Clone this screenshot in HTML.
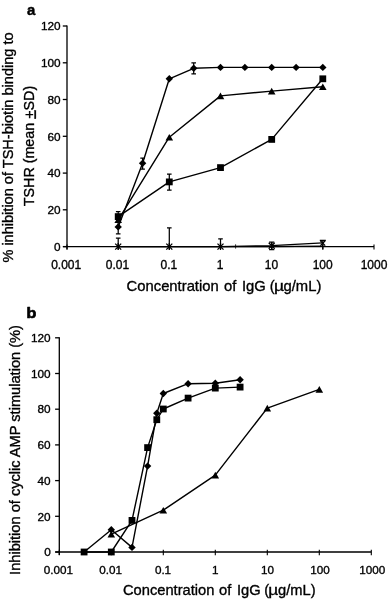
<!DOCTYPE html>
<html><head><meta charset="utf-8"><title>chart</title>
<style>
html,body{margin:0;padding:0;background:#fff;}
body{width:388px;height:600px;overflow:hidden;font-family:"Liberation Sans",sans-serif;}
svg{display:block;will-change:transform;font-family:"Liberation Sans",sans-serif;fill:#000;}
text{stroke:#000;stroke-width:0.34px;}
</style></head><body>
<svg width="388" height="600" viewBox="0 0 388 600">
<rect x="0" y="0" width="388" height="600" fill="#fff"/>
<path d="M67.0 25.5L67.0 249.4M63.0 246.6L374.0 246.6" stroke="#000" stroke-width="1.3" fill="none"/>
<path d="M62.8 246.6L67.0 246.6" stroke="#000" stroke-width="1.3"/>
<text x="60.6" y="250.9" font-size="11.8" text-anchor="end" font-weight="normal" >0</text>
<path d="M62.8 209.8L67.0 209.8" stroke="#000" stroke-width="1.3"/>
<text x="60.6" y="214.1" font-size="11.8" text-anchor="end" font-weight="normal" >20</text>
<path d="M62.8 173.1L67.0 173.1" stroke="#000" stroke-width="1.3"/>
<text x="60.6" y="177.4" font-size="11.8" text-anchor="end" font-weight="normal" >40</text>
<path d="M62.8 136.3L67.0 136.3" stroke="#000" stroke-width="1.3"/>
<text x="60.6" y="140.6" font-size="11.8" text-anchor="end" font-weight="normal" >60</text>
<path d="M62.8 99.5L67.0 99.5" stroke="#000" stroke-width="1.3"/>
<text x="60.6" y="103.8" font-size="11.8" text-anchor="end" font-weight="normal" >80</text>
<path d="M62.8 62.8L67.0 62.8" stroke="#000" stroke-width="1.3"/>
<text x="60.6" y="67.1" font-size="11.8" text-anchor="end" font-weight="normal" >100</text>
<path d="M62.8 26.0L67.0 26.0" stroke="#000" stroke-width="1.3"/>
<text x="60.6" y="30.3" font-size="11.8" text-anchor="end" font-weight="normal" >120</text>
<path d="M67.0 244.4L67.0 249.4" stroke="#000" stroke-width="1.1"/>
<text x="66.2" y="269.1" font-size="12.0" text-anchor="middle" font-weight="normal" >0.001</text>
<path d="M118.2 244.4L118.2 249.4" stroke="#000" stroke-width="1.1"/>
<text x="117.5" y="269.1" font-size="12.0" text-anchor="middle" font-weight="normal" >0.01</text>
<path d="M169.3 244.4L169.3 249.4" stroke="#000" stroke-width="1.1"/>
<text x="168.8" y="269.1" font-size="12.0" text-anchor="middle" font-weight="normal" >0.1</text>
<path d="M220.5 244.4L220.5 249.4" stroke="#000" stroke-width="1.1"/>
<text x="220.1" y="269.1" font-size="12.0" text-anchor="middle" font-weight="normal" >1</text>
<path d="M271.7 244.4L271.7 249.4" stroke="#000" stroke-width="1.1"/>
<text x="271.4" y="269.1" font-size="12.0" text-anchor="middle" font-weight="normal" >10</text>
<path d="M322.8 244.4L322.8 249.4" stroke="#000" stroke-width="1.1"/>
<text x="322.7" y="269.1" font-size="12.0" text-anchor="middle" font-weight="normal" >100</text>
<path d="M374.0 244.4L374.0 249.4" stroke="#000" stroke-width="1.1"/>
<text x="374.0" y="269.1" font-size="12.0" text-anchor="middle" font-weight="normal" >1000</text>
<path d="M235.6 244.3L235.6 248.6" stroke="#000" stroke-width="0.8"/>
<path d="M118.2 226.9L142.6 163.3L169.3 78.8L193.7 68.3L220.5 67.4L244.9 67.4L271.7 67.4L296.1 67.4L322.8 67.4" stroke="#000" stroke-width="1.4" fill="none" stroke-linejoin="round"/>
<path d="M118.2 219.8L169.3 137.2L220.5 95.9L271.7 91.1L322.8 86.7" stroke="#000" stroke-width="1.4" fill="none" stroke-linejoin="round"/>
<path d="M118.2 216.6L169.3 181.9L220.5 167.6L271.7 139.4L322.8 78.8" stroke="#000" stroke-width="1.4" fill="none" stroke-linejoin="round"/>
<path d="M118.2 246.6L169.3 246.6L220.5 246.6L271.7 245.7L322.8 242.9" stroke="#000" stroke-width="1.3" fill="none" stroke-linejoin="round"/>
<path d="M118.2 246.6L169.3 246.6L220.5 246.6L271.7 246.6L322.8 246.2" stroke="#000" stroke-width="1.3" fill="none" stroke-linejoin="round"/>
<path d="M118.2 211.6L118.2 233.8M115.9 211.6L120.5 211.6M115.9 233.8L120.5 233.8" stroke="#000" stroke-width="1.25" fill="none"/>
<path d="M142.6 158.1L142.6 169.0M140.3 158.1L144.9 158.1M140.3 169.0L144.9 169.0" stroke="#000" stroke-width="1.25" fill="none"/>
<path d="M193.7 62.8L193.7 73.9M191.4 62.8L196.0 62.8M191.4 73.9L196.0 73.9" stroke="#000" stroke-width="1.25" fill="none"/>
<path d="M169.3 174.1L169.3 190.1M167.0 174.1L171.6 174.1M167.0 190.1L171.6 190.1" stroke="#000" stroke-width="1.25" fill="none"/>
<path d="M220.5 165.1L220.5 170.1M220.5 165.1L220.5 165.1M220.5 170.1L220.5 170.1" stroke="#000" stroke-width="1.25" fill="none"/>
<path d="M118.2 238.2L118.2 246.6M115.9 238.2L120.5 238.2" stroke="#000" stroke-width="1.25" fill="none"/>
<path d="M169.3 227.8L169.3 246.6M167.0 227.8L171.6 227.8" stroke="#000" stroke-width="1.25" fill="none"/>
<path d="M220.5 238.9L220.5 246.6M218.2 238.9L222.8 238.9" stroke="#000" stroke-width="1.25" fill="none"/>
<path d="M322.8 240.3L322.8 249.6M319.8 240.3L325.8 240.3" stroke="#000" stroke-width="1.25" fill="none"/>
<path d="M271.7 242.0L271.7 249.5M269.1 242.0L274.3 242.0M269.1 249.5L274.3 249.5" stroke="#000" stroke-width="1.25" fill="none"/>
<g fill="#000">
<path d="M118.2 216.5L122.0 223.1L114.4 223.1Z"/>
<path d="M169.3 133.9L173.1 140.5L165.5 140.5Z"/>
<path d="M220.5 92.6L224.3 99.2L216.7 99.2Z"/>
<path d="M271.7 87.8L275.5 94.4L267.9 94.4Z"/>
<path d="M322.8 83.4L326.6 90.0L319.0 90.0Z"/>
<rect x="114.8" y="213.2" width="6.8" height="6.8"/>
<rect x="165.9" y="178.5" width="6.8" height="6.8"/>
<rect x="217.1" y="164.2" width="6.8" height="6.8"/>
<rect x="268.3" y="136.0" width="6.8" height="6.8"/>
<rect x="319.4" y="75.4" width="6.8" height="6.8"/>
<path d="M118.2 223.2L121.9 226.9L118.2 230.6L114.5 226.9Z"/>
<path d="M142.6 159.6L146.3 163.3L142.6 167.0L138.9 163.3Z"/>
<path d="M169.3 75.1L173.0 78.8L169.3 82.5L165.6 78.8Z"/>
<path d="M193.7 64.6L197.4 68.3L193.7 72.0L190.0 68.3Z"/>
<path d="M220.5 63.7L224.2 67.4L220.5 71.1L216.8 67.4Z"/>
<path d="M244.9 63.7L248.6 67.4L244.9 71.1L241.2 67.4Z"/>
<path d="M271.7 63.7L275.4 67.4L271.7 71.1L268.0 67.4Z"/>
<path d="M296.1 63.7L299.8 67.4L296.1 71.1L292.4 67.4Z"/>
<path d="M322.8 63.7L326.5 67.4L322.8 71.1L319.1 67.4Z"/>
</g>
<path d="M115.2 243.6L121.2 249.6M115.2 249.6L121.2 243.6M118.2 243.1L118.2 250.1" stroke="#000" stroke-width="1.3" fill="none"/>
<path d="M166.3 243.6L172.3 249.6M166.3 249.6L172.3 243.6M169.3 243.1L169.3 250.1" stroke="#000" stroke-width="1.3" fill="none"/>
<path d="M217.5 243.6L223.5 249.6M217.5 249.6L223.5 243.6M220.5 243.1L220.5 250.1" stroke="#000" stroke-width="1.3" fill="none"/>
<path d="M268.7 242.7L274.7 248.7M268.7 248.7L274.7 242.7M271.7 242.2L271.7 249.2" stroke="#000" stroke-width="1.3" fill="none"/>
<path d="M320.4 240.8L325.2 245.6M320.4 245.6L325.2 240.8" stroke="#000" stroke-width="1.3" fill="none"/>
<text transform="translate(27.0 14.6) scale(0.96 1)" font-size="15.5" font-weight="bold" style="stroke-width:0.5px;stroke-linejoin:round">a</text>
<text x="126.6" y="290.6" font-size="14.8" text-anchor="start" font-weight="normal" >Concentration</text>
<text x="224.0" y="290.6" font-size="14.8" text-anchor="start" font-weight="normal" >of</text>
<text x="242.0" y="290.6" font-size="14.8" text-anchor="start" font-weight="normal" >IgG</text>
<text x="269.8" y="290.6" font-size="14.8" text-anchor="start" font-weight="normal" >(</text>
<text transform="translate(274.0 290.6) scale(1.18 1)" font-size="14.8">µ</text>
<text x="283.5" y="290.6" font-size="14.8" text-anchor="start" font-weight="normal" >g/mL)</text>
<text transform="translate(13.0 262.6) rotate(-90)" font-size="14.56">% inhibition of TSH-biotin binding to</text>
<text transform="translate(33.5 206.2) rotate(-90)" font-size="14.3">TSHR (mean <tspan text-decoration="underline">+</tspan>SD)</text>
<path d="M59.3 337.3L59.3 555.0M55.3 552.0L371.3 552.0" stroke="#000" stroke-width="1.3" fill="none"/>
<path d="M55.099999999999994 552.0L59.3 552.0" stroke="#000" stroke-width="1.3"/>
<text x="50.7" y="556.2" font-size="11.8" text-anchor="end" font-weight="normal" >0</text>
<path d="M55.099999999999994 516.3L59.3 516.3" stroke="#000" stroke-width="1.3"/>
<text x="50.7" y="520.5" font-size="11.8" text-anchor="end" font-weight="normal" >20</text>
<path d="M55.099999999999994 480.6L59.3 480.6" stroke="#000" stroke-width="1.3"/>
<text x="50.7" y="484.8" font-size="11.8" text-anchor="end" font-weight="normal" >40</text>
<path d="M55.099999999999994 444.9L59.3 444.9" stroke="#000" stroke-width="1.3"/>
<text x="50.7" y="449.1" font-size="11.8" text-anchor="end" font-weight="normal" >60</text>
<path d="M55.099999999999994 409.2L59.3 409.2" stroke="#000" stroke-width="1.3"/>
<text x="50.7" y="413.4" font-size="11.8" text-anchor="end" font-weight="normal" >80</text>
<path d="M55.099999999999994 373.5L59.3 373.5" stroke="#000" stroke-width="1.3"/>
<text x="50.7" y="377.7" font-size="11.8" text-anchor="end" font-weight="normal" >100</text>
<path d="M55.099999999999994 337.8L59.3 337.8" stroke="#000" stroke-width="1.3"/>
<text x="50.7" y="342.0" font-size="11.8" text-anchor="end" font-weight="normal" >120</text>
<path d="M59.3 549.8L59.3 555.2" stroke="#000" stroke-width="1.1"/>
<text x="58.3" y="574.0" font-size="11.7" text-anchor="middle" font-weight="normal" >0.001</text>
<path d="M111.3 549.8L111.3 555.2" stroke="#000" stroke-width="1.1"/>
<text x="110.6" y="574.0" font-size="11.7" text-anchor="middle" font-weight="normal" >0.01</text>
<path d="M163.3 549.8L163.3 555.2" stroke="#000" stroke-width="1.1"/>
<text x="163.0" y="574.0" font-size="11.7" text-anchor="middle" font-weight="normal" >0.1</text>
<path d="M215.3 549.8L215.3 555.2" stroke="#000" stroke-width="1.1"/>
<text x="215.3" y="574.0" font-size="11.7" text-anchor="middle" font-weight="normal" >1</text>
<path d="M267.3 549.8L267.3 555.2" stroke="#000" stroke-width="1.1"/>
<text x="267.6" y="574.0" font-size="11.7" text-anchor="middle" font-weight="normal" >10</text>
<path d="M319.3 549.8L319.3 555.2" stroke="#000" stroke-width="1.1"/>
<text x="319.9" y="574.0" font-size="11.7" text-anchor="middle" font-weight="normal" >100</text>
<path d="M371.3 549.8L371.3 555.2" stroke="#000" stroke-width="1.1"/>
<text x="372.3" y="574.0" font-size="11.7" text-anchor="middle" font-weight="normal" >1000</text>
<path d="M84.1 552.0L111.3 529.7L132.0 547.4L147.6 466.1L156.8 413.3L163.3 393.5L188.1 383.7L215.3 383.3L240.1 379.7" stroke="#000" stroke-width="1.4" fill="none" stroke-linejoin="round"/>
<path d="M84.1 552.0L111.3 552.0L132.0 520.4L147.6 447.6L156.8 419.7L163.3 409.0L188.1 398.1L215.3 388.1L240.1 387.1" stroke="#000" stroke-width="1.4" fill="none" stroke-linejoin="round"/>
<path d="M111.3 534.1L163.3 510.2L215.3 475.1L267.3 408.1L319.3 389.4" stroke="#000" stroke-width="1.4" fill="none" stroke-linejoin="round"/>
<g fill="#000">
<path d="M111.3 530.9L115.1 537.4L107.5 537.4Z"/>
<path d="M163.3 506.9L167.1 513.5L159.5 513.5Z"/>
<path d="M215.3 471.8L219.1 478.4L211.5 478.4Z"/>
<path d="M267.3 404.8L271.1 411.4L263.5 411.4Z"/>
<path d="M319.3 386.1L323.1 392.7L315.5 392.7Z"/>
<path d="M111.3 526.0L115.0 529.7L111.3 533.4L107.6 529.7Z"/>
<path d="M132.0 543.7L135.7 547.4L132.0 551.1L128.3 547.4Z"/>
<path d="M147.6 462.4L151.3 466.1L147.6 469.8L143.9 466.1Z"/>
<path d="M156.8 409.6L160.5 413.3L156.8 417.0L153.1 413.3Z"/>
<path d="M163.3 389.8L167.0 393.5L163.3 397.2L159.6 393.5Z"/>
<path d="M188.1 380.0L191.8 383.7L188.1 387.4L184.4 383.7Z"/>
<path d="M215.3 379.6L219.0 383.3L215.3 387.0L211.6 383.3Z"/>
<path d="M240.1 376.0L243.8 379.7L240.1 383.4L236.4 379.7Z"/>
<rect x="80.7" y="548.6" width="6.8" height="6.8"/>
<rect x="107.9" y="548.6" width="6.8" height="6.8"/>
<rect x="128.6" y="517.0" width="6.8" height="6.8"/>
<rect x="144.2" y="444.2" width="6.8" height="6.8"/>
<rect x="153.4" y="416.3" width="6.8" height="6.8"/>
<rect x="159.9" y="405.6" width="6.8" height="6.8"/>
<rect x="184.7" y="394.7" width="6.8" height="6.8"/>
<rect x="211.9" y="384.7" width="6.8" height="6.8"/>
<rect x="236.7" y="383.7" width="6.8" height="6.8"/>
</g>
<text transform="translate(26.6 317.6) scale(1.15 1)" font-size="14" font-weight="bold" style="stroke-width:0.6px;stroke-linejoin:round">b</text>
<text x="123.0" y="594.7" font-size="14.7" text-anchor="start" font-weight="normal" >Concentration</text>
<text x="219.0" y="594.7" font-size="14.7" text-anchor="start" font-weight="normal" >of</text>
<text x="237.0" y="594.7" font-size="14.7" text-anchor="start" font-weight="normal" >IgG</text>
<text x="264.2" y="594.7" font-size="14.7" text-anchor="start" font-weight="normal" >(</text>
<text transform="translate(268.3 594.7) scale(1.18 1)" font-size="14.7">µ</text>
<text x="278.0" y="594.7" font-size="14.7" text-anchor="start" font-weight="normal" >g/mL)</text>
<text transform="translate(19.8 574.9) rotate(-90)" font-size="14.62">Inhibition of cyclic AMP stimulation (%)</text>
</svg>
</body></html>
